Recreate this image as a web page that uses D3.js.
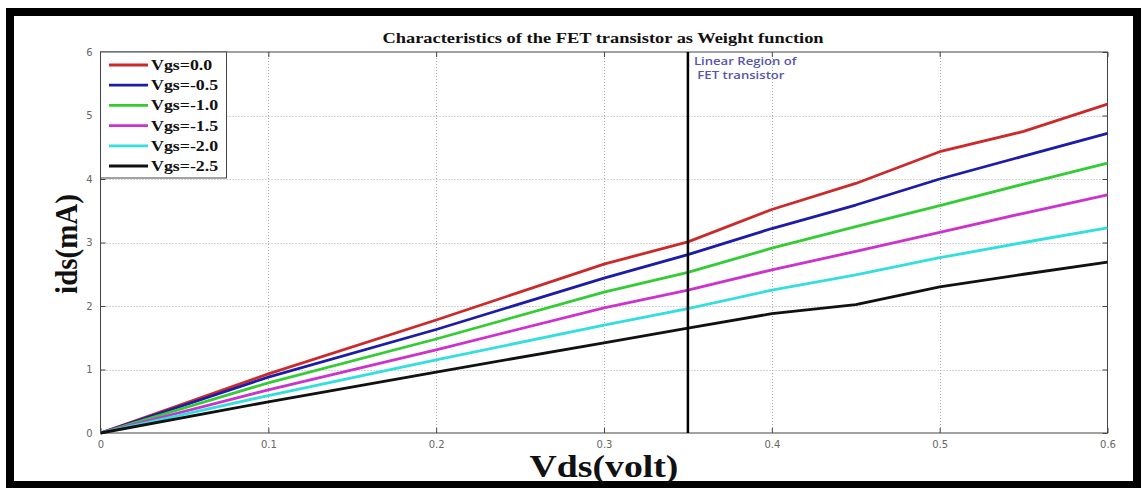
<!DOCTYPE html>
<html><head><meta charset="utf-8">
<script src="https://cdn.jsdelivr.net/npm/d3@7"></script>
<style>html,body{margin:0;padding:0;background:#fff;}svg{display:block;}</style>
</head><body>
<svg id="chart" width="1142" height="488"></svg>
<script>
const vds = [0, 0.1, 0.2, 0.3, 0.35, 0.4, 0.45, 0.5, 0.55, 0.6];
const seriesNames = ["Vgs=0.0", "Vgs=-0.5", "Vgs=-1.0", "Vgs=-1.5", "Vgs=-2.0", "Vgs=-2.5"];
const vgs0  = [0, 0.93, 1.78, 2.66, 3.01, 3.52, 3.93, 4.43, 4.75, 5.18];
const vgs05 = [0, 0.88, 1.63, 2.44, 2.81, 3.22, 3.59, 4.00, 4.36, 4.72];
const vgs10 = [0, 0.79, 1.48, 2.22, 2.53, 2.91, 3.25, 3.58, 3.92, 4.25];
const vgs15 = [0, 0.68, 1.31, 1.97, 2.25, 2.57, 2.86, 3.16, 3.46, 3.75];
const vgs20 = [0, 0.59, 1.15, 1.70, 1.96, 2.25, 2.49, 2.76, 3.00, 3.23];
const vgs25 = [0, 0.49, 0.96, 1.42, 1.65, 1.88, 2.02, 2.30, 2.50, 2.69];
const seriesValues = [vgs0, vgs05, vgs10, vgs15, vgs20, vgs25];
const colors = ["#cc2a2a", "#1c1ca8", "#33cc33", "#cc33cc", "#33dede", "#111111"];
const xTicks = [0, 0.1, 0.2, 0.3, 0.4, 0.5, 0.6];
const yTicks = [0, 1, 2, 3, 4, 5, 6];
const markerX = 0.35;
const title = "Characteristics of the FET transistor as Weight function";
const xLabel = "Vds(volt)";
const yLabel = "ids(mA)";
const annotation = ["Linear Region of", " FET transistor"];

const svg = d3.select("#chart");
const L = 100.5, R = 1107.5, T = 52, B = 433;
const x = d3.scaleLinear().domain([0, 0.6]).range([L, R]);
const y = d3.scaleLinear().domain([0, 6]).range([B, T]);
const serif = "Liberation Serif, Times New Roman, serif";

svg.append("rect").attr("x", 0).attr("y", 0).attr("width", 1142).attr("height", 488).attr("fill", "#fff");
svg.append("rect").attr("x", 10).attr("y", 12).attr("width", 1127).attr("height", 473)
  .attr("fill", "#fff").attr("stroke", "#000").attr("stroke-width", 8);

// grid
const grid = svg.append("g").attr("stroke", "#a8a8a8").attr("stroke-width", 1).attr("stroke-dasharray", "1,2");
grid.selectAll(".gx").data(xTicks.slice(1, -1)).join("line")
  .attr("x1", d => Math.round(x(d)) + 0.5).attr("x2", d => Math.round(x(d)) + 0.5).attr("y1", T).attr("y2", B);
grid.selectAll(".gy").data(yTicks.slice(1, -1)).join("line")
  .attr("y1", d => Math.round(y(d)) + 0.5).attr("y2", d => Math.round(y(d)) + 0.5).attr("x1", L).attr("x2", R);

// axes
const axisStyle = g => {
  g.select(".domain").remove();
  g.selectAll("line").attr("stroke", "#444");
  g.selectAll("text").attr("fill", "#666").attr("font-family", "DejaVu Sans, sans-serif").attr("font-size", 10);
};
svg.append("g").attr("transform", `translate(0,${B})`)
  .call(d3.axisBottom(x).tickValues(xTicks).tickFormat(d3.format("")).tickSizeInner(-5).tickSizeOuter(0).tickPadding(8))
  .call(axisStyle);
svg.append("g").attr("transform", `translate(0,${T})`)
  .call(d3.axisTop(x).tickValues(xTicks).tickFormat("").tickSizeInner(-5).tickSizeOuter(0))
  .call(axisStyle);
svg.append("g").attr("transform", `translate(${L},0)`)
  .call(d3.axisLeft(y).tickValues(yTicks).tickFormat(d3.format("")).tickSizeInner(-5).tickSizeOuter(0).tickPadding(8))
  .call(axisStyle);
svg.append("g").attr("transform", `translate(${R},0)`)
  .call(d3.axisRight(y).tickValues(yTicks).tickFormat("").tickSizeInner(-5).tickSizeOuter(0))
  .call(axisStyle);
svg.append("rect").attr("x", L).attr("y", T).attr("width", R - L).attr("height", B - T)
  .attr("fill", "none").attr("stroke", "#444").attr("stroke-width", 1);

// lines
const line = d3.line().x((d, i) => x(vds[i])).y(d => y(d));
svg.append("g").selectAll("path").data(seriesValues).join("path")
  .attr("d", d => line(d)).attr("fill", "none")
  .attr("stroke", (d, i) => colors[i]).attr("stroke-width", 2.8).attr("stroke-linejoin", "round");

// vertical marker
svg.append("line").attr("x1", x(markerX)).attr("x2", x(markerX)).attr("y1", T).attr("y2", B)
  .attr("stroke", "#000").attr("stroke-width", 2.5);
svg.append("g").selectAll("text").data(annotation).join("text")
  .attr("transform", (d, i) => `translate(${x(markerX) + 6},${65 + i * 14}) scale(1.25,1)`)
  .attr("font-family", "Open Sans, sans-serif").attr("font-weight", 600).attr("font-size", 10.5)
  .attr("fill", "#5656b0").attr("xml:space", "preserve").text(d => d);

// legend
const lg = svg.append("g");
lg.append("rect").attr("x", L).attr("y", T).attr("width", 126).attr("height", 126)
  .attr("fill", "#fff").attr("stroke", "#444").attr("stroke-width", 1);
seriesNames.forEach((n, i) => {
  const yy = 65 + i * 20.2;
  lg.append("line").attr("x1", 109).attr("x2", 148).attr("y1", yy).attr("y2", yy)
    .attr("stroke", colors[i]).attr("stroke-width", 2.8);
  lg.append("text").attr("transform", `translate(151,${yy + 5}) scale(1.23,1)`).text(n)
    .attr("font-family", serif).attr("font-weight", "bold")
    .attr("font-size", 14.5).attr("fill", "#111");
});

// titles
svg.append("text").attr("transform", "translate(603,43) scale(1.27,1)").attr("text-anchor", "middle")
  .attr("font-family", serif).attr("font-weight", "bold")
  .attr("font-size", 14.5).attr("fill", "#111").text(title);
svg.append("text").attr("transform", "translate(604,477) scale(1.18,1)").attr("text-anchor", "middle")
  .attr("font-family", serif).attr("font-weight", "bold")
  .attr("font-size", 32).attr("fill", "#111").text(xLabel);
svg.append("text").attr("transform", "translate(77,244) scale(1.1,1) rotate(-90)").attr("text-anchor", "middle")
  .attr("font-family", serif).attr("font-weight", "bold")
  .attr("font-size", 29).attr("fill", "#111").text(yLabel);
</script>
</body></html>
